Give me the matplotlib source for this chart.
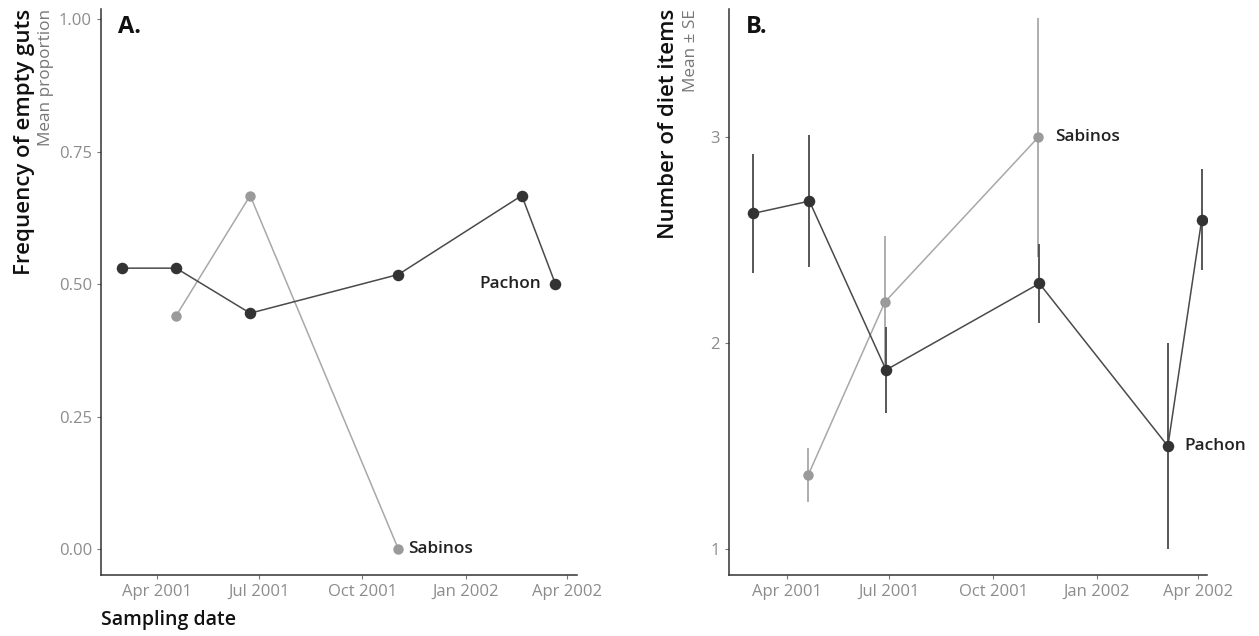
import numpy as np
import matplotlib
matplotlib.use("Agg")
import matplotlib.pyplot as plt
import matplotlib.dates as mdates
import matplotlib.transforms as mtransforms

plt.rcParams['font.family'] = ['Open Sans', 'DejaVu Sans']

# Panel A: frequency of empty guts (mean proportion)
gut_pachon_dates = np.array(['2001-03-01', '2001-04-18', '2001-06-23', '2001-11-02',
                             '2002-02-20', '2002-03-22'], dtype='datetime64[D]')
gut_pachon_vals = [0.53, 0.53, 0.445, 0.518, 0.667, 0.50]
gut_sabinos_dates = np.array(['2001-04-18', '2001-06-23', '2001-11-02'], dtype='datetime64[D]')
gut_sabinos_vals = [0.44, 0.667, 0.0]

# Panel B: number of diet items (mean ± SE)
diet_pachon_dates = np.array(['2001-03-02', '2001-04-21', '2001-06-28', '2001-11-11',
                              '2002-03-05', '2002-04-04'], dtype='datetime64[D]')
diet_pachon_mean = [2.63, 2.69, 1.87, 2.29, 1.50, 2.60]
diet_pachon_se = [0.29, 0.32, 0.21, 0.19, 0.50, 0.245]
diet_sabinos_dates = np.array(['2001-04-20', '2001-06-27', '2001-11-10'], dtype='datetime64[D]')
diet_sabinos_mean = [1.36, 2.20, 3.00]
diet_sabinos_se = [0.13, 0.32, 0.58]

gut_yticks = [0.00, 0.25, 0.50, 0.75, 1.00]
gut_yticklabels = ['0.00', '0.25', '0.50', '0.75', '1.00']
diet_yticks = [1, 2, 3]
date_ticks = np.array(['2001-04-01', '2001-07-01', '2001-10-01', '2002-01-01', '2002-04-01'],
                      dtype='datetime64[D]')
date_ticklabels = ['Apr 2001', 'Jul 2001', 'Oct 2001', 'Jan 2002', 'Apr 2002']

DARK = '#333333'
DARK_LINE = '#4a4a4a'
GREY = '#9a9a9a'
GREY_LINE = '#a8a8a8'
TICK_GREY = '#8c8c8c'

W, H = 1259, 636
fig = plt.figure(figsize=(W / 100, H / 100), dpi=100)


def px_axes(left, right, top, bottom):
    return fig.add_axes([left / W, 1 - bottom / H, (right - left) / W, (bottom - top) / H])


axA = px_axes(101, 577, 9, 575)
axB = px_axes(729, 1207, 9, 575)


def style_axis(ax):
    for s in ('top', 'right'):
        ax.spines[s].set_visible(False)
    ax.spines['left'].set_color('#333333')
    ax.spines['bottom'].set_color('#333333')
    ax.spines['left'].set_linewidth(1.1)
    ax.spines['bottom'].set_linewidth(1.1)
    ax.tick_params(axis='both', color='#777777', length=3, width=0.8,
                   labelcolor=TICK_GREY, labelsize=12)
    ax.set_xticks(mdates.date2num(date_ticks))
    ax.set_xticklabels(date_ticklabels)


# ---- Panel A ----
axA.plot(mdates.date2num(gut_sabinos_dates), gut_sabinos_vals, '-', color=GREY_LINE, lw=1.1, zorder=2)
axA.plot(mdates.date2num(gut_sabinos_dates), gut_sabinos_vals, 'o', color=GREY, ms=7.5, mew=0, zorder=3)
axA.plot(mdates.date2num(gut_pachon_dates), gut_pachon_vals, '-', color=DARK_LINE, lw=1.1, zorder=4)
axA.plot(mdates.date2num(gut_pachon_dates), gut_pachon_vals, 'o', color=DARK, ms=8.3, mew=0, zorder=5)
style_axis(axA)
axA.set_yticks(gut_yticks)
axA.set_yticklabels(gut_yticklabels)
axA.set_ylim(-0.049, 1.019)
axA.set_xlim(mdates.date2num(np.datetime64('2001-04-01')) - 49.9,
             mdates.date2num(np.datetime64('2001-04-01')) + 374.2)

axA.annotate('Pachon', (mdates.date2num(gut_pachon_dates[-1]), gut_pachon_vals[-1]),
             xytext=(-10, 0), textcoords='offset points', ha='right', va='center',
             fontsize=12.4, fontweight='semibold', color='#222222')
axA.annotate('Sabinos', (mdates.date2num(gut_sabinos_dates[-1]), gut_sabinos_vals[-1]),
             xytext=(7, 0), textcoords='offset points', ha='left', va='center',
             fontsize=12.4, fontweight='semibold', color='#222222')
axA.text(0.035, 0.99, 'A.', transform=axA.transAxes, ha='left', va='top',
         fontsize=17, fontweight='bold', color='#111111')

# ---- Panel B ----
xs = mdates.date2num(diet_sabinos_dates)
axB.errorbar(xs, diet_sabinos_mean, yerr=diet_sabinos_se, fmt='none', ecolor=GREY_LINE,
             elinewidth=1.3, capsize=0, zorder=2)
axB.plot(xs, diet_sabinos_mean, '-', color=GREY_LINE, lw=1.1, zorder=2)
axB.plot(xs, diet_sabinos_mean, 'o', color=GREY, ms=7.5, mew=0, zorder=3)
xp = mdates.date2num(diet_pachon_dates)
axB.errorbar(xp, diet_pachon_mean, yerr=diet_pachon_se, fmt='none', ecolor=DARK_LINE,
             elinewidth=1.3, capsize=0, zorder=4)
axB.plot(xp, diet_pachon_mean, '-', color=DARK_LINE, lw=1.1, zorder=4)
axB.plot(xp, diet_pachon_mean, 'o', color=DARK, ms=8.3, mew=0, zorder=5)
style_axis(axB)
axB.set_yticks(diet_yticks)
axB.set_ylim(0.874, 3.623)
axB.set_xlim(mdates.date2num(np.datetime64('2001-04-01')) - 51.3,
             mdates.date2num(np.datetime64('2001-04-01')) + 372.7)

axB.annotate('Sabinos', (xs[-1], diet_sabinos_mean[-1]),
             xytext=(12, 0), textcoords='offset points', ha='left', va='center',
             fontsize=12.4, fontweight='semibold', color='#222222')
axB.annotate('Pachon', (xp[4], diet_pachon_mean[4]),
             xytext=(12, 0), textcoords='offset points', ha='left', va='center',
             fontsize=12.4, fontweight='semibold', color='#222222')
axB.text(0.035, 0.99, 'B.', transform=axB.transAxes, ha='left', va='top',
         fontsize=17, fontweight='bold', color='#111111')

# ---- Axis titles with subtitles ----
def ylabel_pair(ax, main, sub, x_main, x_sub):
    tr = mtransforms.blended_transform_factory(fig.transFigure, ax.transAxes)
    ax.text(x_main / W, 1.0, main, transform=tr, rotation=90, ha='center', va='top',
            fontsize=16, fontweight='semibold', color='#111111')
    ax.text(x_sub / W, 1.0, sub, transform=tr, rotation=90, ha='center', va='top',
            fontsize=12.3, color='#777777')


ylabel_pair(axA, 'Frequency of empty guts', 'Mean proportion', 25, 46)
ylabel_pair(axB, 'Number of diet items', 'Mean ± SE', 668, 691)

fig.text(101 / W, 1 - 620 / H, 'Sampling date', ha='left', va='center',
         fontsize=14, fontweight='semibold', color='#111111')

fig.savefig('out.png', dpi=100)
